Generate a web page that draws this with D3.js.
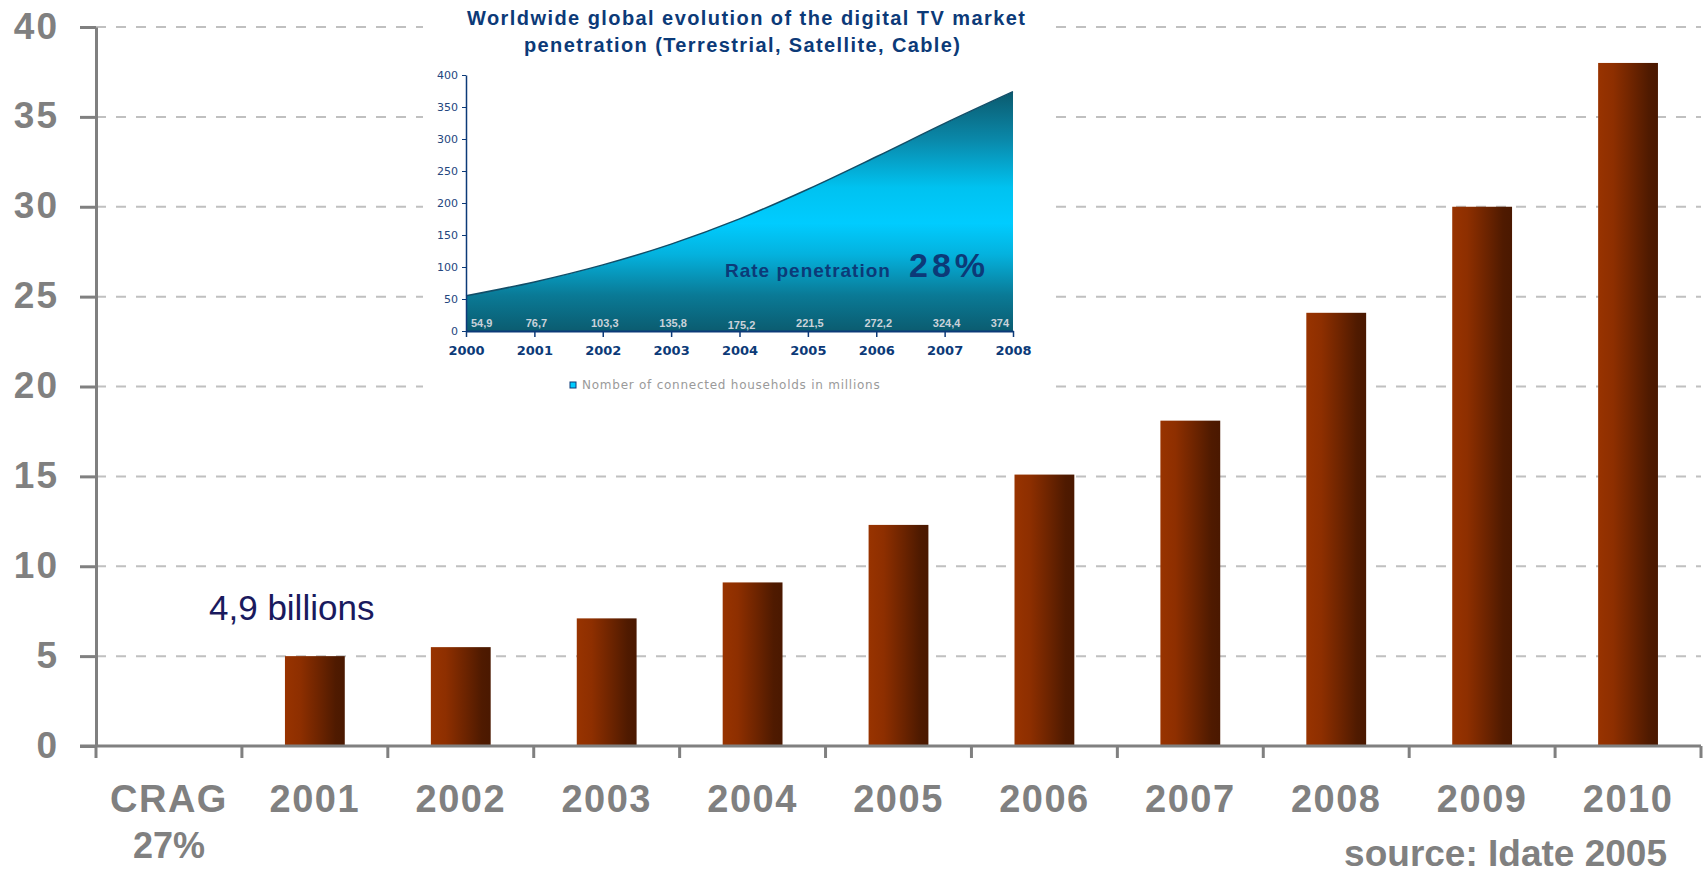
<!DOCTYPE html>
<html>
<head>
<meta charset="utf-8">
<script src="https://cdn.jsdelivr.net/npm/d3@7"></script>
<style>
    body { margin: 0; background: #fff; }
</style>
</head>
<body>
<svg id="mainsvg" width="1708" height="875" font-family='"Liberation Sans", Arial, sans-serif'></svg>
<script>
// main chart: digital TV, billions
const categories = ['CRAG', '2001', '2002', '2003', '2004', '2005', '2006', '2007', '2008', '2009', '2010'];
const barYears = ['2001', '2002', '2003', '2004', '2005', '2006', '2007', '2008', '2009', '2010'];
const barValues = [5.0, 5.5, 7.1, 9.1, 12.3, 15.1, 18.1, 24.1, 30.0, 38.0];
const yTicks = [0, 5, 10, 15, 20, 25, 30, 35, 40];

// inset: connected households in millions
const insetYears = [2000, 2001, 2002, 2003, 2004, 2005, 2006, 2007, 2008];
const households = [54.9, 76.7, 103.3, 135.8, 175.2, 221.5, 272.2, 324.4, 374];
const insetTicks = [0, 50, 100, 150, 200, 250, 300, 350, 400];

const svg = d3.select('#mainsvg');
const grey = '#808080';
const navy = '#0c3a78';
const sans = '"Liberation Sans", Arial, sans-serif';
const verdana = '"DejaVu Sans", Verdana, sans-serif';

const x = d3.scaleBand().domain(categories).range([96, 1701]).padding(0);
const y = d3.scaleLinear().domain([0, 40]).range([746, 27]);

const defs = svg.append('defs');
const barGrad = defs.append('linearGradient').attr('id', 'barGrad')
    .attr('x1', '0%').attr('x2', '100%').attr('y1', '0%').attr('y2', '0%');
[[0, '#983300'], [0.25, '#8e2f00'], [0.6, '#6a2300'], [0.85, '#4f1a00'], [1, '#4a1800']]
    .forEach(s => barGrad.append('stop').attr('offset', s[0]).attr('stop-color', s[1]));

// gridlines
svg.append('g').selectAll('line').data(yTicks.filter(d => d > 0)).enter()
    .append('line')
    .attr('x1', 96).attr('x2', 1701)
    .attr('y1', d => y(d)).attr('y2', d => y(d))
    .attr('stroke', '#c0c0c0').attr('stroke-width', 2)
    .attr('stroke-dasharray', '10,10');

// bars
const bw = x.bandwidth() * 0.41;
svg.append('g').selectAll('rect').data(barValues).enter()
    .append('rect')
    .attr('x', (d, i) => x(barYears[i]) + (x.bandwidth() - bw) / 2)
    .attr('width', bw)
    .attr('y', d => y(d))
    .attr('height', d => y(0) - y(d))
    .attr('fill', 'url(#barGrad)');

// y axis
const yAxis = svg.append('g').attr('transform', 'translate(96,0)')
    .call(d3.axisLeft(y).tickValues(yTicks).tickSize(16).tickSizeOuter(0).tickPadding(21));
yAxis.select('.domain').attr('stroke', grey).attr('stroke-width', 3);
yAxis.selectAll('.tick line').attr('stroke', grey).attr('stroke-width', 3);
yAxis.selectAll('.tick text')
    .attr('fill', grey).attr('font-size', 37).attr('font-weight', 'bold')
    .attr('font-family', sans)
    .attr('letter-spacing', 2).attr('dy', '0.3em');

// x axis
svg.append('line')
    .attr('x1', 80).attr('x2', 1701).attr('y1', y(0)).attr('y2', y(0))
    .attr('stroke', grey).attr('stroke-width', 3);
const bounds = categories.map(c => x(c)).concat([x.range()[1]]);
svg.append('g').selectAll('line').data(bounds).enter()
    .append('line')
    .attr('x1', d => d).attr('x2', d => d)
    .attr('y1', y(0)).attr('y2', y(0) + 12)
    .attr('stroke', grey).attr('stroke-width', 3);
const xAxis = svg.append('g').attr('transform', `translate(0,${y(0)})`)
    .call(d3.axisBottom(x).tickSize(0).tickPadding(0));
xAxis.select('.domain').remove();
xAxis.selectAll('.tick text')
    .attr('y', 66).attr('dy', 0)
    .attr('fill', grey).attr('font-size', 38).attr('font-weight', 'bold')
    .attr('font-family', sans)
    .attr('letter-spacing', 1.5);
svg.append('text')
    .attr('x', x('CRAG') + x.bandwidth() / 2).attr('y', 858)
    .attr('text-anchor', 'middle')
    .attr('fill', grey).attr('font-size', 36).attr('font-weight', 'bold')
    .text('27%');

svg.append('text')
    .attr('x', 209).attr('y', 620)
    .attr('fill', '#1a1a5e').attr('font-size', 35)
    .text('4,9 billions');

svg.append('text')
    .attr('x', 1667).attr('y', 866)
    .attr('text-anchor', 'end')
    .attr('fill', grey).attr('font-size', 37).attr('font-weight', 'bold')
    .text('source: Idate 2005');

// ---------- inset ----------
const inset = svg.append('g');
inset.append('rect')
    .attr('x', 423).attr('y', 0).attr('width', 628).attr('height', 395)
    .attr('fill', '#fff');

const ix = d3.scalePoint().domain(insetYears).range([466, 1013]);
const iy = d3.scaleLinear().domain([0, 400]).range([331, 75]);

const areaGrad = defs.append('linearGradient').attr('id', 'areaGrad')
    .attr('gradientUnits', 'userSpaceOnUse')
    .attr('x1', 0).attr('x2', 0).attr('y1', iy(374)).attr('y2', iy(0));
[[0, '#0b5a6e'], [0.2, '#0a88a9'], [0.4, '#00c2f0'], [0.55, '#00ccff'], [0.68, '#04b2de'],
 [0.85, '#0a7a96'], [1, '#0b5c70']]
    .forEach(s => areaGrad.append('stop').attr('offset', s[0]).attr('stop-color', s[1]));

const area = d3.area()
    .x((d, i) => ix(insetYears[i]))
    .y0(iy(0))
    .y1(d => iy(d))
    .curve(d3.curveMonotoneX);
const topLine = d3.line()
    .x((d, i) => ix(insetYears[i]))
    .y(d => iy(d))
    .curve(d3.curveMonotoneX);

inset.append('path').datum(households)
    .attr('d', area).attr('fill', 'url(#areaGrad)');
inset.append('path').datum(households)
    .attr('d', topLine).attr('fill', 'none')
    .attr('stroke', '#124e68').attr('stroke-width', 1.5);

const iyAxis = inset.append('g').attr('transform', 'translate(466,0)')
    .call(d3.axisLeft(iy).tickValues(insetTicks).tickSize(4).tickSizeOuter(0).tickPadding(4));
iyAxis.select('.domain').attr('stroke', navy).attr('stroke-width', 1.5);
iyAxis.selectAll('.tick line').attr('stroke', navy);
iyAxis.selectAll('.tick text')
    .attr('fill', '#24467e').attr('font-size', 11)
    .attr('font-family', verdana);

const ixAxis = inset.append('g').attr('transform', `translate(0,${iy(0)})`)
    .call(d3.axisBottom(ix).tickSize(6).tickSizeOuter(0).tickPadding(9).tickFormat(d3.format('d')));
ixAxis.select('.domain').attr('stroke', navy).attr('stroke-width', 2);
ixAxis.selectAll('.tick line').attr('stroke', navy).attr('stroke-width', 1.5);
ixAxis.selectAll('.tick text')
    .attr('fill', navy).attr('font-size', 13).attr('font-weight', 'bold')
    .attr('font-family', verdana);

// value labels inside the area
const fmt = d => d3.format('~f')(d).replace('.', ',');
inset.append('g').selectAll('text').data(households).enter()
    .append('text')
    .attr('x', (d, i) => i === 0 ? ix(insetYears[i]) + 5 : i === households.length - 1 ? ix(insetYears[i]) - 4 : ix(insetYears[i]) + 2)
    .attr('y', (d, i) => i === 4 ? 329 : 327)
    .attr('text-anchor', (d, i) => i === 0 ? 'start' : i === households.length - 1 ? 'end' : 'middle')
    .attr('fill', '#c9d2da').attr('font-size', 11).attr('font-weight', 'bold')
    .text(fmt);

// titles
inset.append('text')
    .attr('x', 746).attr('y', 25).attr('text-anchor', 'middle')
    .attr('fill', navy).attr('font-size', 20).attr('font-weight', 'bold')
    .attr('textLength', 558)
    .text('Worldwide global evolution of  the digital TV market');
inset.append('text')
    .attr('x', 742).attr('y', 52).attr('text-anchor', 'middle')
    .attr('fill', navy).attr('font-size', 20).attr('font-weight', 'bold')
    .attr('textLength', 436)
    .text('penetration (Terrestrial, Satellite, Cable)');

inset.append('text')
    .attr('x', 725).attr('y', 277)
    .attr('fill', navy).attr('font-size', 19).attr('font-weight', 'bold')
    .attr('letter-spacing', 1)
    .text('Rate penetration');
inset.append('text')
    .attr('x', 909).attr('y', 277)
    .attr('fill', navy).attr('font-size', 34).attr('font-weight', 'bold')
    .attr('letter-spacing', 4)
    .text('28%');

// legend
inset.append('rect')
    .attr('x', 570).attr('y', 382).attr('width', 6).attr('height', 6)
    .attr('fill', '#00ccff').attr('stroke', navy).attr('stroke-width', 1);
inset.append('text')
    .attr('x', 582).attr('y', 389)
    .attr('fill', '#9a9a9a').attr('font-size', 12)
    .attr('font-family', verdana)
    .attr('letter-spacing', 0.75)
    .text('Nomber of connected households in millions');
</script>
</body>
</html>
